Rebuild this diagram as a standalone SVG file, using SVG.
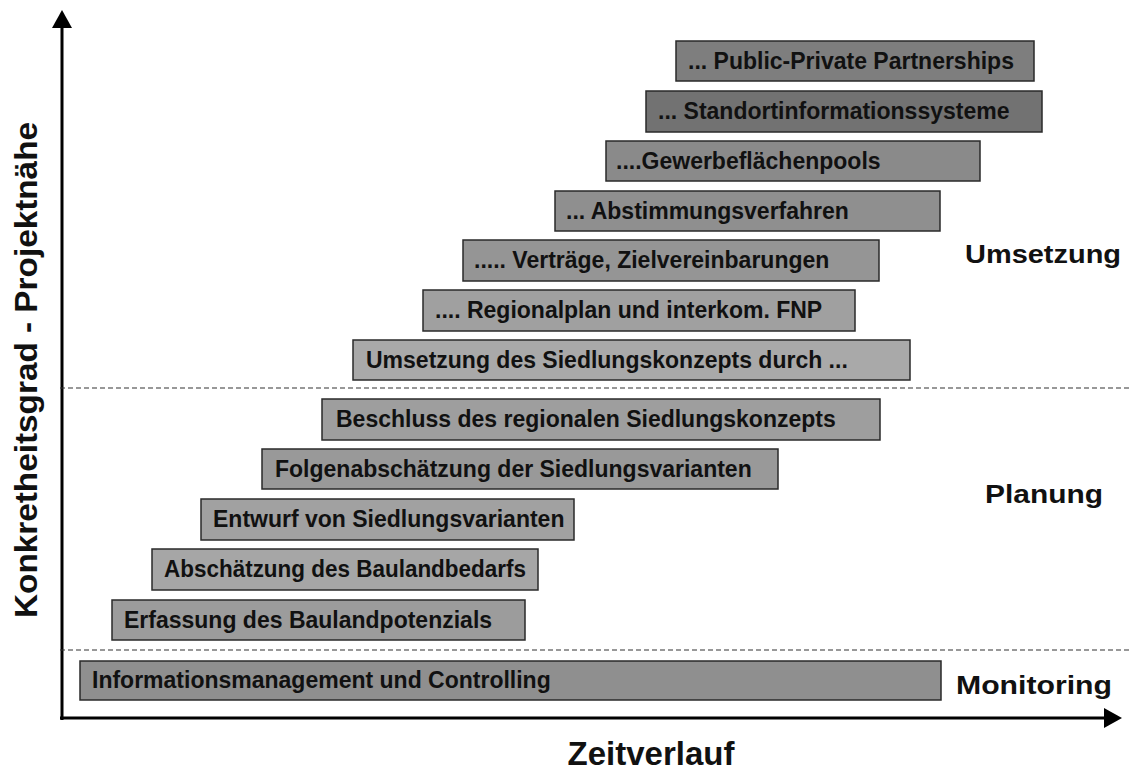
<svg xmlns="http://www.w3.org/2000/svg" width="1132" height="770" viewBox="0 0 1132 770">
<style>
.b{stroke:#2a2a2a;stroke-width:1.5}
.t{font-family:"Liberation Sans",Arial,sans-serif;font-weight:bold;font-size:23px;fill:#111}
.l{font-family:"Liberation Sans",Arial,sans-serif;font-weight:bold;font-size:25px;fill:#111}
.d{stroke:#333;stroke-width:1.2;stroke-dasharray:5 3;fill:none}
.ax{stroke:#000;stroke-width:3;fill:none}
</style>
<rect width="1132" height="770" fill="#fff"/>
<g id="axes">
<line class="ax" x1="62" y1="720" x2="62" y2="24"/>
<path d="M52,28 L62,10 L72,28 Z" fill="#000"/>
<line class="ax" x1="60" y1="718" x2="1106" y2="718"/>
<path d="M1104,708 L1122,718 L1104,728 Z" fill="#000"/>
</g>
<g id="connectors">
<line class="d" x1="60" y1="388" x2="1132" y2="388"/>
<line class="d" x1="60" y1="650" x2="1132" y2="650"/>
</g>
<g id="n1"><rect class="b" x="676" y="41" width="358" height="40" fill="#7e7e7e"/><text class="t" x="688" y="69">... Public-Private Partnerships</text></g>
<g id="n2"><rect class="b" x="646" y="91" width="396" height="41" fill="#727272"/><text class="t" x="658" y="119">...  Standortinformationssysteme</text></g>
<g id="n3"><rect class="b" x="606" y="141" width="374" height="40" fill="#8a8a8a"/><text class="t" x="616" y="169">....Gewerbeflächenpools</text></g>
<g id="n4"><rect class="b" x="555" y="191" width="385" height="40" fill="#8f8f8f"/><text class="t" x="566" y="219">... Abstimmungsverfahren</text></g>
<g id="n5"><rect class="b" x="463" y="240" width="416" height="41" fill="#959595"/><text class="t" x="474" y="268">..... Verträge, Zielvereinbarungen</text></g>
<g id="n6"><rect class="b" x="423" y="290" width="432" height="41" fill="#a0a0a0"/><text class="t" x="435" y="318">.... Regionalplan und interkom. FNP</text></g>
<g id="n7"><rect class="b" x="353" y="340" width="557" height="40" fill="#a9a9a9"/><text class="t" x="366" y="368">Umsetzung des Siedlungskonzepts durch ...</text></g>
<g id="n8"><rect class="b" x="322" y="399" width="558" height="41" fill="#9e9e9e"/><text class="t" x="336" y="427">Beschluss des regionalen Siedlungskonzepts</text></g>
<g id="n9"><rect class="b" x="262" y="449" width="516" height="40" fill="#999999"/><text class="t" x="275" y="477">Folgenabschätzung der Siedlungsvarianten</text></g>
<g id="n10"><rect class="b" x="201" y="499" width="373" height="41" fill="#a1a1a1"/><text class="t" x="213" y="527">Entwurf von Siedlungsvarianten</text></g>
<g id="n11"><rect class="b" x="152" y="549" width="386" height="41" fill="#a6a6a6"/><text class="t" x="164" y="577" textLength="362" lengthAdjust="spacingAndGlyphs">Abschätzung des Baulandbedarfs</text></g>
<g id="n12"><rect class="b" x="112" y="600" width="413" height="40" fill="#9c9c9c"/><text class="t" x="124" y="628">Erfassung des Baulandpotenzials</text></g>
<g id="n13"><rect class="b" x="80" y="661" width="861" height="39" fill="#8f8f8f"/><text class="t" x="92" y="688">Informationsmanagement und Controlling</text></g>
<g id="labels">
<text class="l" x="965" y="263" textLength="156" lengthAdjust="spacingAndGlyphs">Umsetzung</text>
<text class="l" x="985" y="503" textLength="118" lengthAdjust="spacingAndGlyphs">Planung</text>
<text class="l" x="956" y="694" textLength="156" lengthAdjust="spacingAndGlyphs">Monitoring</text>
<text class="l" x="651" y="765" text-anchor="middle" style="font-size:33px">Zeitverlauf</text>
<text class="l" transform="translate(37,370) rotate(-90)" text-anchor="middle" textLength="496" lengthAdjust="spacingAndGlyphs" style="font-size:32px">Konkretheitsgrad - Projektnähe</text>
</g>
</svg>
